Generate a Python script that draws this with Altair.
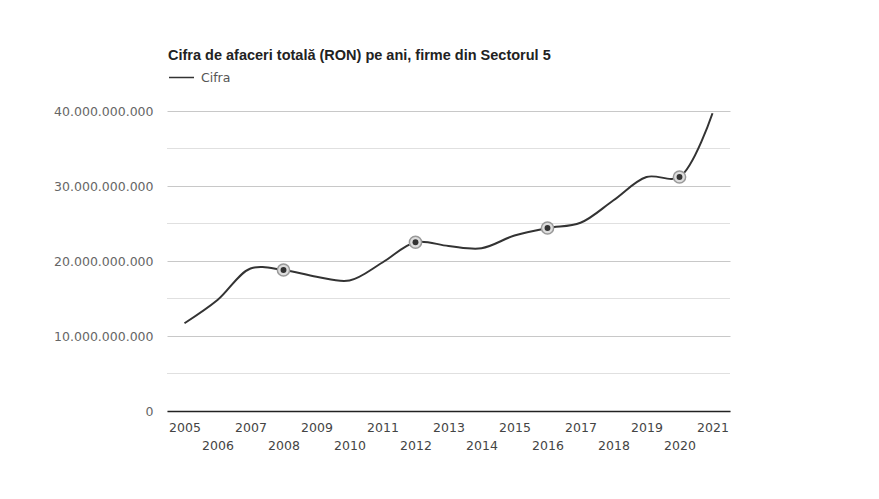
import altair as alt
import pandas as pd

years = [str(y) for y in range(2005, 2022)]
values_bn = [11.7, 14.8, 19.0, 18.8, 17.9, 17.4, 19.8, 22.5, 22.0, 21.7, 23.4,
             24.4, 25.1, 28.1, 31.2, 31.2, 39.7]
marked_years = ["2008", "2012", "2016", "2020"]
series_name = "Cifra"
title_text = "Cifra de afaceri totală (RON) pe ani, firme din Sectorul 5"
y_ticks = [0, 10_000_000_000, 20_000_000_000, 30_000_000_000, 40_000_000_000]
minor_grid = [5_000_000_000, 15_000_000_000, 25_000_000_000, 35_000_000_000]

df = pd.DataFrame({
    "An": years,
    "Cifra": [v * 1e9 for v in values_bn],
    "Serie": series_name,
})
df_marks = df[df["An"].isin(marked_years)]
df_minor = pd.DataFrame({"v": minor_grid})

FONT = "DejaVu Sans"
TFONT = "Liberation Sans"

x_enc = alt.X(
    "An:O",
    scale=alt.Scale(type="point", padding=0.53),
    axis=alt.Axis(
        title=None,
        labelAngle=0,
        labelExpr="(toNumber(datum.value) - 2005) % 2 == 0 ? [datum.label] : ['', datum.label]",
        labelLineHeight=18,
        labelBaseline="top",
        labelPadding=10,
        labelFontSize=12.5,
        labelColor="#444444",
        labelFont=FONT,
        domainColor="#222222",
        domainWidth=1.5,
        ticks=False,
        grid=False,
    ),
)

y_enc = alt.Y(
    "Cifra:Q",
    scale=alt.Scale(domain=[0, 40_000_000_000], nice=False),
    axis=alt.Axis(
        title=None,
        values=y_ticks,
        labelExpr="replace(format(datum.value, ',d'), /,/g, '.')",
        labelFontSize=12.5,
        labelColor="#666666",
        labelFont=FONT,
        labelPadding=14,
        domain=False,
        ticks=False,
        gridColor="#c8c8c8",
        gridWidth=1,
    ),
)

minor = alt.Chart(df_minor).mark_rule(color="#e0e0e0", strokeWidth=1).encode(
    y=alt.Y("v:Q", scale=alt.Scale(domain=[0, 40_000_000_000], nice=False))
)

line = alt.Chart(df).mark_line(interpolate="catmull-rom", strokeWidth=2).encode(
    x=x_enc,
    y=y_enc,
    color=alt.Color(
        "Serie:N",
        scale=alt.Scale(range=["#333333"]),
        legend=alt.Legend(
            title=None,
            orient="none",
            legendX=1,
            legendY=-47,
            symbolType="stroke",
            symbolStrokeWidth=1.5,
            symbolSize=625,
            labelOffset=6,
            labelFontSize=12.5,
            labelFont=FONT,
            labelColor="#555555",
            padding=0,
        ),
    ),
)

ring = alt.Chart(df_marks).mark_point(
    shape="circle", size=150, filled=True, fill="#dddddd", stroke="#999999", strokeWidth=1.5, opacity=1
).encode(x="An:O", y="Cifra:Q")

dot = alt.Chart(df_marks).mark_point(
    shape="circle", size=35, filled=True, color="#333333", opacity=1
).encode(x="An:O", y="Cifra:Q")

chart = alt.layer(minor, line, ring, dot).properties(
    width=563,
    height=300,
    autosize=alt.AutoSizeParams(type="none"),
    padding={"left": 159, "top": 103, "right": 10, "bottom": 60},
    title=alt.Title(
        title_text,
        anchor="start",
        frame="group",
        dx=1,
        offset=1,
        font=TFONT,
        fontSize=14.5,
        fontWeight="bold",
        color="#222222",
    ),
).configure(background="white").configure_view(stroke=None)

chart.save("out.html", embed_options={"renderer": "svg", "actions": False})
